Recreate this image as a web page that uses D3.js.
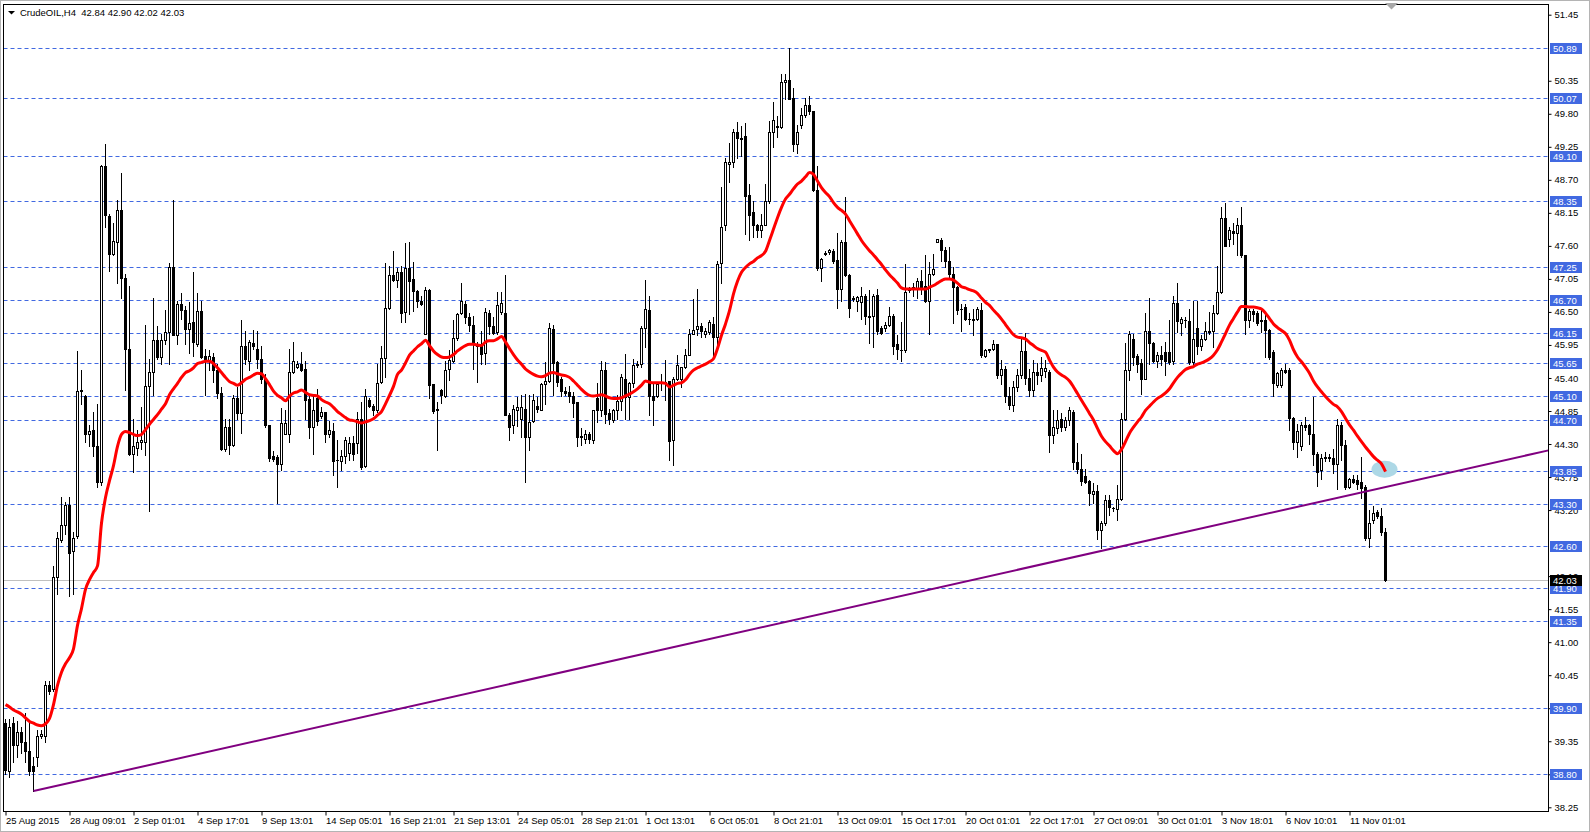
<!DOCTYPE html>
<html><head><meta charset="utf-8">
<script src="https://cdn.jsdelivr.net/npm/d3@7"></script>
<style>html,body{margin:0;padding:0;background:#fff;overflow:hidden}</style>
</head><body>
<svg id="chart" width="1590" height="832"></svg>
<script>
// ---------------- data ----------------
const symbolTitle = "CrudeOIL,H4";
const titleOHLC = "42.84 42.90 42.02 42.03";

const barOpen = [
39.65,38.86,39.65,39.29,39.50,39.33,39.18,38.93,39.08,39.43,
39.43,40.29,40.22,42.09,42.70,42.95,43.28,42.52,42.77,45.18,
45.10,44.46,44.54,44.26,43.66,48.93,48.09,47.47,47.66,48.20,
47.06,45.89,44.13,44.24,44.34,44.34,45.27,45.50,46.03,45.75,
46.03,46.16,47.24,46.12,46.63,46.53,46.21,46.33,45.96,46.52,
45.76,45.68,45.75,45.54,45.15,44.22,44.58,44.29,45.07,44.81,
45.93,45.68,45.99,45.89,45.71,45.39,44.61,44.10,44.08,43.97,
44.47,44.46,45.50,45.59,45.64,45.55,45.05,44.58,45.07,44.76,
44.83,44.46,44.51,44.04,44.01,44.10,44.15,44.31,44.31,44.72,
43.93,45.04,44.93,44.86,45.34,45.74,46.57,47.11,47.03,47.16,
46.50,47.23,47.05,46.85,46.69,46.14,46.87,45.30,44.86,45.20,
45.10,45.55,45.69,46.07,46.48,46.64,46.42,46.29,45.97,45.94,
45.81,46.48,46.26,46.16,46.50,46.48,44.78,44.61,44.86,44.71,
44.89,44.41,44.69,44.93,44.87,45.30,45.35,46.22,45.66,45.39,
45.19,45.17,45.10,45.00,44.44,44.38,44.46,44.37,45.06,44.86,
45.54,44.82,44.70,44.87,45.02,45.39,45.09,45.32,45.61,45.64,
46.24,46.54,45.10,45.10,45.31,45.32,45.35,44.37,45.39,45.39,
45.58,45.79,46.14,46.22,46.27,46.13,46.16,46.30,46.09,47.31,
47.94,48.97,48.99,49.49,49.40,49.43,48.45,48.16,47.95,47.86,
47.95,48.35,49.50,49.58,49.58,50.33,50.36,50.06,49.29,49.62,
49.78,49.95,49.84,48.53,47.23,47.47,47.49,47.52,47.36,46.88,
47.66,47.11,46.72,46.69,46.66,46.77,46.44,46.44,46.79,46.24,
46.24,46.29,46.44,45.96,45.87,45.86,46.86,46.88,46.90,47.01,
46.94,46.69,47.13,47.66,47.69,47.53,47.35,47.13,46.92,46.55,
46.59,46.39,46.39,46.38,46.54,45.76,45.86,45.88,45.96,45.45,
45.55,45.10,44.95,45.25,45.45,45.85,45.40,45.20,45.50,45.45,
45.52,45.50,44.45,44.57,44.72,44.59,44.70,44.84,44.00,43.88,
43.77,43.69,43.47,43.51,42.86,42.98,43.37,43.23,43.21,43.38,
44.72,45.54,46.05,45.76,45.65,45.39,46.18,45.98,45.69,45.78,
45.83,45.83,45.68,46.65,46.31,46.37,46.35,45.67,46.24,45.94,
46.05,46.16,46.19,46.48,46.83,48.06,47.71,47.84,47.81,47.95,
47.44,46.37,46.52,46.48,46.36,46.37,46.20,45.83,45.28,45.28,
45.53,45.54,44.73,44.34,44.27,44.61,44.61,44.46,44.13,43.86,
44.07,44.08,44.06,43.97,44.61,44.28,43.58,43.72,43.70,43.67,
43.59,42.73,43.03,43.17,43.10,42.84];

const barHigh = [
39.72,39.72,39.75,39.68,39.58,39.82,39.65,39.08,39.54,39.54,
40.36,40.36,42.27,42.84,43.41,43.34,43.42,42.84,45.85,45.54,
45.12,44.61,44.83,44.97,48.94,49.30,48.13,47.98,48.37,48.82,
47.13,46.93,44.72,44.54,44.91,46.28,45.71,46.73,46.27,46.14,
46.53,47.31,48.37,46.69,46.81,46.60,46.67,47.17,46.81,46.69,
45.89,45.86,45.82,45.64,45.25,44.72,44.72,45.11,45.25,46.37,
46.19,46.03,46.20,46.19,45.93,45.46,44.61,44.19,44.12,44.90,
44.86,45.89,46.00,45.69,45.83,45.68,45.11,45.11,45.22,44.91,
44.84,44.69,44.65,44.36,44.20,44.41,44.42,44.43,44.84,45.00,
45.21,45.06,44.97,45.64,45.93,47.32,47.27,47.52,47.23,47.26,
47.65,47.67,47.33,46.87,46.77,46.91,46.88,45.30,45.00,45.22,
45.68,45.86,46.37,46.48,46.99,46.69,46.48,46.44,46.00,46.19,
46.57,46.54,46.42,46.83,46.83,47.12,44.81,44.95,45.08,45.11,
45.13,45.12,45.14,45.08,45.32,45.67,46.31,46.29,45.68,45.42,
45.25,45.26,45.17,45.00,44.57,44.54,44.50,44.87,45.31,45.69,
45.67,44.89,44.89,45.11,45.46,45.80,45.33,45.72,45.69,46.27,
47.03,46.77,45.30,45.33,45.47,45.70,45.35,45.42,45.78,45.59,
45.89,46.22,46.72,46.88,46.31,46.24,46.36,46.41,47.34,48.58,
49.07,49.32,49.54,49.67,49.60,49.64,48.63,48.35,47.97,48.13,
48.63,49.68,49.99,49.76,50.46,50.46,50.89,50.23,49.62,49.90,
50.07,50.10,49.84,48.93,47.40,47.51,47.55,47.55,47.81,47.69,
48.41,47.13,46.76,46.77,46.91,46.80,46.87,46.80,46.88,46.26,
46.33,46.58,46.46,46.11,46.33,47.30,46.91,46.98,47.07,47.19,
47.44,47.33,47.47,47.72,47.73,47.58,47.58,47.24,46.94,46.63,
46.63,46.48,46.55,46.58,46.65,45.89,45.89,46.03,45.97,45.70,
45.60,45.25,45.35,45.55,46.05,46.15,45.55,45.70,45.65,45.75,
45.70,45.53,44.86,44.86,44.82,44.75,44.91,44.86,44.31,44.14,
43.89,43.70,43.65,43.62,43.01,43.45,43.45,43.25,43.62,44.81,
45.98,46.19,46.14,45.80,45.72,46.48,46.73,46.00,45.83,45.94,
46.00,46.36,46.76,46.99,46.42,46.42,46.55,46.69,46.69,46.11,
46.33,46.50,46.61,47.26,48.25,48.32,47.91,47.98,48.07,48.25,
47.44,46.55,46.55,46.52,46.55,46.47,46.22,45.86,45.50,45.56,
45.63,45.56,44.75,44.64,44.67,44.75,44.64,45.08,44.17,44.14,
44.17,44.14,44.21,44.72,44.67,44.37,43.74,43.78,43.78,44.09,
43.62,43.20,43.27,43.20,43.24,42.90];

const barLow = [
38.80,38.76,39.00,39.08,39.15,39.00,38.79,38.52,38.93,39.40,
39.33,40.14,40.18,41.81,42.66,42.80,41.77,41.81,42.73,44.97,
44.34,44.26,44.10,43.58,43.62,47.91,47.18,47.44,46.99,46.74,
45.20,44.12,43.83,44.12,44.22,44.12,43.18,45.11,45.71,45.64,
45.96,45.64,46.12,45.96,46.39,45.96,45.82,45.76,45.93,45.73,
45.11,45.54,45.34,45.07,44.20,44.19,44.13,44.26,44.72,44.49,
45.64,45.54,45.89,45.57,45.32,44.58,44.01,44.01,43.32,43.87,
44.46,44.33,45.48,45.57,45.52,44.72,44.40,44.13,44.61,44.74,
44.33,44.41,43.78,43.58,43.87,43.98,44.03,44.03,44.15,43.89,
43.92,44.92,44.78,44.84,45.31,45.42,46.55,47.02,46.91,46.33,
46.33,46.47,46.52,46.58,46.62,46.13,45.06,44.82,44.20,44.98,
45.08,45.37,45.67,46.04,46.47,46.31,46.19,45.55,45.33,45.64,
45.64,46.14,46.13,46.14,46.47,44.78,44.37,44.48,44.60,44.42,
43.67,44.20,44.67,44.84,44.86,44.97,45.33,45.11,45.26,45.10,
45.11,45.00,44.75,44.27,44.28,44.31,44.32,44.32,44.67,44.76,
44.65,44.63,44.67,44.72,44.86,44.72,44.72,45.25,45.58,45.58,
45.92,44.78,44.61,45.08,45.20,45.03,44.04,43.95,45.36,45.25,
45.56,45.78,46.14,46.11,46.08,46.09,46.14,45.72,45.86,46.99,
47.86,48.66,48.91,49.07,49.10,47.80,47.69,47.74,47.74,47.75,
47.94,48.32,49.25,49.41,49.56,50.04,50.04,49.18,49.14,49.56,
49.75,49.80,48.52,47.19,47.01,47.44,47.47,47.31,46.57,46.69,
47.09,46.41,46.69,46.52,46.39,46.30,45.98,45.92,46.14,46.14,
46.19,46.27,45.80,45.72,45.69,45.83,46.84,46.77,46.73,46.80,
46.66,46.14,47.11,47.66,47.35,47.24,47.08,46.31,46.46,46.18,
46.36,46.30,46.11,46.36,45.75,45.75,45.83,45.86,45.40,45.30,
45.00,44.88,44.85,45.18,45.40,45.30,45.10,45.10,45.30,45.35,
45.42,44.17,44.31,44.48,44.52,44.53,44.61,43.89,43.81,43.62,
43.65,43.29,43.31,42.72,42.57,42.95,43.12,43.18,43.04,43.36,
44.70,45.37,45.61,45.50,45.14,45.39,45.64,45.67,45.58,45.61,
45.45,45.64,45.64,46.17,46.11,46.25,45.64,45.60,45.80,45.86,
46.03,46.14,45.92,46.47,46.81,47.59,47.60,47.63,47.44,47.41,
46.14,46.25,46.35,46.29,46.17,45.75,45.72,45.10,45.25,45.25,
45.49,44.53,44.21,44.08,44.20,44.53,44.30,43.95,43.60,43.71,
44.02,44.02,43.81,43.55,44.03,43.55,43.56,43.65,43.55,43.40,
42.70,42.59,42.98,43.07,42.78,42.02];

const barClose = [
38.87,39.58,39.29,39.50,39.33,39.18,38.86,38.86,39.43,39.47,
40.29,40.18,42.09,42.73,42.95,43.28,42.48,42.73,45.18,45.20,
44.46,44.52,44.26,43.66,48.93,48.11,47.47,47.68,48.20,47.06,
45.89,44.13,44.26,44.34,44.36,45.27,45.50,46.03,45.75,46.03,
46.16,47.24,46.12,46.63,46.53,46.21,46.32,46.00,46.52,45.75,
45.72,45.76,45.54,45.15,44.22,44.58,44.29,45.07,44.81,45.93,
45.71,46.00,45.93,45.71,45.39,44.61,44.06,44.05,43.97,44.65,
44.65,45.50,45.69,45.64,45.54,45.04,44.58,44.86,44.68,44.83,
44.46,44.53,44.02,44.03,44.10,44.36,44.31,44.14,44.72,43.92,
45.10,44.93,44.86,45.31,45.74,46.57,47.12,47.03,47.17,46.48,
47.23,47.02,46.85,46.68,46.64,46.87,45.29,44.85,44.89,45.12,
45.54,45.70,46.07,46.47,46.68,46.42,46.29,45.98,45.94,45.80,
46.50,46.26,46.15,46.62,46.65,44.78,44.58,44.89,44.92,44.91,
44.41,44.67,45.04,44.88,45.30,45.35,46.24,45.65,45.33,45.18,
45.15,45.10,44.99,44.42,44.41,44.46,44.38,44.86,44.86,45.54,
44.80,44.71,44.87,45.02,45.42,45.09,45.32,45.61,45.64,46.24,
46.55,45.10,45.04,45.30,45.32,45.33,44.35,45.39,45.61,45.58,
45.79,46.14,46.20,46.27,46.19,46.19,46.33,46.09,47.30,47.92,
48.99,49.00,49.49,49.40,49.38,48.43,48.12,47.95,47.86,47.95,
48.35,49.50,49.69,49.60,50.33,50.36,50.04,49.29,49.49,49.78,
49.95,49.85,48.53,47.23,47.38,47.48,47.53,47.35,46.88,47.66,
47.11,46.57,46.73,46.75,46.77,46.44,46.41,46.77,46.19,46.15,
46.29,46.44,45.94,45.89,45.86,46.83,46.88,46.91,47.01,46.92,
46.68,47.13,47.22,47.71,47.53,47.35,47.13,46.92,46.54,46.55,
46.39,46.38,46.37,46.55,45.78,45.86,45.88,45.96,45.45,45.55,
45.10,44.95,45.25,45.45,45.85,45.40,45.20,45.50,45.45,45.56,
45.57,44.45,44.59,44.70,44.58,44.70,44.86,44.00,43.88,43.69,
43.67,43.48,43.51,42.86,42.98,43.37,43.25,43.24,43.38,44.72,
45.54,46.14,45.75,45.64,45.39,46.18,45.98,45.69,45.79,45.72,
45.69,45.67,46.65,46.35,46.38,46.36,45.67,46.05,45.94,46.05,
46.18,46.19,46.48,46.83,48.06,47.60,47.86,47.81,47.95,47.45,
46.37,46.52,46.46,46.31,46.35,46.20,45.75,45.32,45.48,45.53,
45.50,44.73,44.34,44.52,44.61,44.58,44.46,44.13,43.84,44.06,
44.09,44.07,43.97,44.61,44.28,43.58,43.71,43.66,43.64,43.56,
42.73,42.98,43.15,43.10,42.84,42.03];

// moving average (red line), one value per bar
const maValues = [
39.96,39.92,39.87,39.84,39.80,39.74,39.68,39.65,39.62,39.61,
39.64,39.73,39.96,40.28,40.50,40.64,40.74,40.89,41.28,41.56,
41.88,42.04,42.16,42.27,42.98,43.41,43.69,43.94,44.26,44.46,
44.51,44.49,44.46,44.44,44.46,44.54,44.63,44.71,44.79,44.88,
44.97,45.12,45.22,45.31,45.41,45.49,45.52,45.57,45.64,45.66,
45.68,45.68,45.64,45.57,45.49,45.41,45.34,45.31,45.28,45.32,
45.38,45.41,45.45,45.48,45.47,45.39,45.29,45.18,45.11,45.07,
45.02,45.10,45.15,45.17,45.20,45.16,45.12,45.11,45.10,45.04,
45.00,44.97,44.91,44.84,44.79,44.74,44.70,44.69,44.67,44.65,
44.67,44.69,44.72,44.78,44.84,44.97,45.11,45.26,45.46,45.53,
45.65,45.78,45.85,45.92,45.97,46.03,45.94,45.85,45.79,45.75,
45.74,45.75,45.79,45.85,45.90,45.94,45.96,45.96,45.95,45.94,
46.00,46.02,46.02,46.05,46.09,46.00,45.89,45.79,45.70,45.63,
45.55,45.50,45.46,45.43,45.42,45.44,45.48,45.49,45.47,45.45,
45.44,45.41,45.35,45.28,45.21,45.15,45.11,45.10,45.11,45.12,
45.10,45.07,45.06,45.06,45.07,45.10,45.13,45.17,45.22,45.28,
45.35,45.33,45.32,45.32,45.32,45.31,45.25,45.28,45.31,45.32,
45.37,45.46,45.53,45.57,45.60,45.63,45.67,45.72,45.89,46.11,
46.30,46.52,46.80,47.01,47.16,47.24,47.30,47.34,47.40,47.44,
47.51,47.69,47.88,48.07,48.24,48.38,48.46,48.55,48.63,48.68,
48.75,48.82,48.79,48.68,48.57,48.49,48.42,48.32,48.24,48.19,
48.13,48.02,47.91,47.80,47.69,47.60,47.52,47.45,47.37,47.29,
47.20,47.12,47.05,46.98,46.90,46.88,46.88,46.88,46.88,46.88,
46.88,46.91,46.94,46.98,47.02,47.05,47.05,47.03,46.98,46.92,
46.90,46.87,46.85,46.81,46.73,46.66,46.61,46.53,46.46,46.38,
46.29,46.20,46.12,46.08,46.07,46.05,45.99,45.94,45.89,45.86,
45.83,45.70,45.58,45.50,45.45,45.41,45.35,45.25,45.14,45.03,
44.92,44.81,44.70,44.56,44.43,44.34,44.27,44.19,44.14,44.21,
44.34,44.48,44.58,44.67,44.75,44.86,44.93,45.00,45.06,45.10,
45.15,45.22,45.32,45.41,45.48,45.54,45.57,45.59,45.63,45.65,
45.68,45.72,45.78,45.87,46.00,46.14,46.28,46.39,46.50,46.59,
46.59,46.58,46.58,46.57,46.55,46.48,46.39,46.30,46.24,46.19,
46.14,46.03,45.87,45.75,45.67,45.58,45.48,45.35,45.25,45.17,
45.09,45.02,44.96,44.92,44.84,44.73,44.62,44.53,44.43,44.34,
44.25,44.17,44.09,44.03,43.97,43.84];

// horizontal levels (blue dashed lines with labels)
const levels = [50.89,50.07,49.10,48.35,47.25,46.70,46.15,45.65,45.10,44.70,43.85,43.30,42.60,41.90,41.35,39.90,38.80];
const currentPrice = 42.03;

// price-axis tick labels (50.90 and 42.65 sit fully under level boxes in the reference)
const priceTicks = [38.25,38.80,39.35,39.90,40.45,41.00,41.55,42.10,43.20,43.75,44.30,44.85,45.40,45.95,46.50,47.05,47.60,48.15,48.70,49.25,49.80,50.35,51.45];

// time-axis labels and the bar they sit on
const timeLabels = ["25 Aug 2015","28 Aug 09:01","2 Sep 01:01","4 Sep 17:01","9 Sep 13:01","14 Sep 05:01","16 Sep 21:01","21 Sep 13:01","24 Sep 05:01","28 Sep 21:01","1 Oct 13:01","6 Oct 05:01","8 Oct 21:01","13 Oct 09:01","15 Oct 17:01","20 Oct 01:01","22 Oct 17:01","27 Oct 09:01","30 Oct 01:01","3 Nov 18:01","6 Nov 10:01","11 Nov 01:01"];
const timeLabelBars = [0,16,32,48,64,80,96,112,128,144,160,176,192,208,224,240,256,272,288,304,320,336];

// trend line anchors (bar index, price) and highlighted point
const trendStart = {bar: 7, price: 38.52};
const trendEnd = {bar: 274, price: 42.52};
const marker = {bar: 345, price: 43.88};

// ---------------- drawing ----------------
const W = 1590, H = 832;
const pL = 3.5, pT = 4.5, pR = 1548.5, pB = 811.5;
const font = "'Liberation Sans', Arial, sans-serif";
const levelColor = "#4169e1";

const svg = d3.select("#chart");
svg.append("rect").attr("x",0).attr("y",0).attr("width",W).attr("height",H).attr("fill","#fff");

const n = Math.min(barOpen.length, barHigh.length, barLow.length, barClose.length);
const bars = d3.range(n).map(i => ({i, o: barOpen[i], h: Math.max(barHigh[i], barOpen[i], barClose[i]),
  l: Math.min(barLow[i], barOpen[i], barClose[i]), c: barClose[i]}));

const x = d3.scaleLinear().domain([0, 386]).range([5.5, 1549.5]);
const y = d3.scaleLinear().domain([38.25, 51.45]).range([807.3, 14.7]);
const crisp = v => Math.round(v) + 0.5;

svg.append("defs").append("clipPath").attr("id","plot")
  .append("rect").attr("x",pL).attr("y",pT).attr("width",pR-pL).attr("height",pB-pT);

const plot = svg.append("g").attr("clip-path","url(#plot)");

// levels
plot.append("g").selectAll("line").data(levels).join("line")
  .attr("x1",pL).attr("x2",pR)
  .attr("y1",d=>crisp(y(d))).attr("y2",d=>crisp(y(d)))
  .attr("stroke",levelColor).attr("stroke-width",1).attr("stroke-dasharray","4,3");

// current price line
plot.append("line").attr("x1",pL).attr("x2",pR)
  .attr("y1",crisp(y(currentPrice))).attr("y2",crisp(y(currentPrice)))
  .attr("stroke","#c0c0c0").attr("stroke-width",1);

// candles
const cg = plot.append("g");
cg.selectAll("line.wick").data(bars).join("line").attr("class","wick")
  .attr("x1",d=>x(d.i)).attr("x2",d=>x(d.i))
  .attr("y1",d=>Math.round(y(d.h))).attr("y2",d=>Math.round(y(d.l))+1)
  .attr("stroke","#000").attr("stroke-width",1);
bars.forEach(d => {
  const cx = x(d.i);
  const yt = Math.round(y(Math.max(d.o,d.c)));
  const yb = Math.round(y(Math.min(d.o,d.c)));
  if (yb - yt < 2) {
    cg.append("rect").attr("x",cx-1.5).attr("y",yt).attr("width",3).attr("height",Math.max(1,yb-yt+1)).attr("fill","#000");
  } else if (d.c >= d.o) {
    cg.append("rect").attr("x",cx-1).attr("y",yt+0.5).attr("width",2).attr("height",yb-yt)
      .attr("fill","#fff").attr("stroke","#000").attr("stroke-width",1);
  } else {
    cg.append("rect").attr("x",cx-1.5).attr("y",yt).attr("width",3).attr("height",yb-yt+1).attr("fill","#000");
  }
});

// highlight ellipse
plot.append("ellipse").attr("cx",x(marker.bar)-1).attr("cy",y(marker.price))
  .attr("rx",13).attr("ry",8.5).attr("fill","#add8e6");

// moving average
plot.append("path").datum(maValues.slice(0,n))
  .attr("d", d3.line().x((d,i)=>x(i)).y(d=>y(d)).curve(d3.curveMonotoneX))
  .attr("fill","none").attr("stroke","#ff0000").attr("stroke-width",3).attr("stroke-linejoin","round");

// trend line (ray to the right edge)
const slope = (trendEnd.price - trendStart.price)/(trendEnd.bar - trendStart.bar);
const endBar = x.invert(pR);
plot.append("line")
  .attr("x1",x(trendStart.bar)).attr("y1",y(trendStart.price))
  .attr("x2",x(endBar)).attr("y2",y(trendStart.price + slope*(endBar - trendStart.bar)))
  .attr("stroke","#800080").attr("stroke-width",2);

// frame
svg.append("rect").attr("x",pL).attr("y",pT).attr("width",pR-pL).attr("height",pB-pT)
  .attr("fill","none").attr("stroke","#000").attr("stroke-width",1);

// price axis
const yAxis = d3.axisRight(y).tickValues(priceTicks).tickFormat(d3.format(".2f"))
  .tickSizeInner(3).tickSizeOuter(0).tickPadding(3);
const ya = svg.append("g").attr("transform",`translate(${pR},0)`).call(yAxis);
ya.select(".domain").remove();
ya.selectAll("line").attr("stroke","#000");
ya.selectAll("text").attr("font-family",font).attr("font-size","9.5px").attr("fill","#000");

// level labels
const lg = svg.append("g");
levels.forEach(v => {
  const yy = Math.round(y(v));
  lg.append("rect").attr("x",1550).attr("y",yy-5).attr("width",32).attr("height",11).attr("fill",levelColor);
  lg.append("text").attr("x",1553).attr("y",yy+4).attr("font-family",font).attr("font-size","9.5px")
    .attr("fill","#fff").text(v.toFixed(2));
});
{
  const yy = Math.round(y(currentPrice));
  lg.append("rect").attr("x",1550).attr("y",yy-5).attr("width",32).attr("height",11).attr("fill","#000");
  lg.append("text").attr("x",1553).attr("y",yy+4).attr("font-family",font).attr("font-size","9.5px")
    .attr("fill","#fff").text(currentPrice.toFixed(2));
}

// time axis
const xAxis = d3.axisBottom(x).tickValues(timeLabelBars).tickFormat((d,i)=>timeLabels[i])
  .tickSizeInner(4).tickSizeOuter(0).tickPadding(2);
const xa = svg.append("g").attr("transform",`translate(0,${pB})`).call(xAxis);
xa.select(".domain").remove();
xa.selectAll("line").attr("stroke","#000");
xa.selectAll("text").attr("font-family",font).attr("font-size","9.5px").attr("fill","#000")
  .attr("text-anchor","start").attr("x",0);

// title
svg.append("path").attr("d","M8,11 L15,11 L11.5,14.5 Z").attr("fill","#000");
svg.append("text").attr("x",20).attr("y",16).attr("font-family",font).attr("font-size","9.5px")
  .attr("fill","#000").attr("xml:space","preserve").text(symbolTitle + "  " + titleOHLC);

// chart-shift marker at top
svg.append("path").attr("d","M1385,3 L1398,3 L1391.5,9.5 Z").attr("fill","#a8a8a8");

// outer window border
svg.append("rect").attr("x",0.5).attr("y",0.5).attr("width",W-1).attr("height",H-1)
  .attr("fill","none").attr("stroke","#b4b4b4");
</script>
</body></html>
